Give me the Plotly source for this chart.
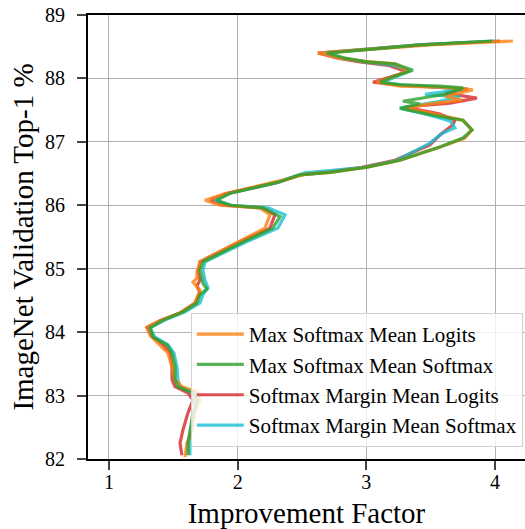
import plotly.graph_objects as go

# Max Softmax Mean Logits
msml_x = [4.139, 3.494, 2.624, 2.795, 2.989, 3.222, 3.323, 3.199, 3.082, 3.261, 3.611, 3.828, 3.611, 3.743,
          3.494, 3.300, 3.533, 3.751, 3.821, 3.766, 3.572, 3.261, 3.005, 2.717, 2.523, 2.368, 2.290, 1.901,
          1.746, 1.862, 2.173, 2.251, 2.212, 2.018, 1.847, 1.707, 1.684, 1.684, 1.653, 1.707, 1.668, 1.552,
          1.396, 1.295, 1.319, 1.396, 1.458, 1.490, 1.513, 1.567, 1.684, 1.707, 1.668, 1.645, 1.606, 1.591]
msml_y = [88.59, 88.53, 88.40, 88.32, 88.27, 88.23, 88.12, 88.02, 87.94, 87.88, 87.86, 87.82, 87.72, 87.66,
          87.60, 87.53, 87.44, 87.34, 87.19, 87.06, 86.92, 86.71, 86.60, 86.52, 86.49, 86.40, 86.37, 86.18,
          86.08, 86.00, 85.96, 85.85, 85.64, 85.44, 85.25, 85.11, 84.95, 84.85, 84.79, 84.66, 84.46, 84.30,
          84.18, 84.08, 83.95, 83.80, 83.67, 83.45, 83.25, 83.14, 83.06, 82.93, 82.73, 82.46, 82.25, 82.03]

# Max Softmax Mean Softmax
msms_x = [3.976, 3.416, 2.694, 2.834, 3.005, 3.222, 3.362, 3.222, 3.106, 3.261, 3.572, 3.751, 3.611, 3.284,
          3.416, 3.261, 3.517, 3.751, 3.821, 3.751, 3.572, 3.261, 3.005, 2.717, 2.484, 2.406, 2.329, 1.940,
          1.839, 1.940, 2.197, 2.329, 2.274, 2.072, 1.886, 1.730, 1.707, 1.730, 1.761, 1.707, 1.684, 1.575,
          1.420, 1.319, 1.342, 1.451, 1.490, 1.513, 1.513, 1.536, 1.653, 1.684, 1.653, 1.629, 1.614, 1.614]
msms_y = [88.59, 88.53, 88.40, 88.32, 88.26, 88.23, 88.13, 88.04, 87.94, 87.90, 87.88, 87.85, 87.75, 87.64,
          87.60, 87.53, 87.42, 87.34, 87.19, 87.06, 86.92, 86.71, 86.60, 86.52, 86.48, 86.43, 86.37, 86.19,
          86.08, 86.00, 85.96, 85.82, 85.64, 85.45, 85.26, 85.11, 84.98, 84.77, 84.68, 84.59, 84.46, 84.32,
          84.19, 84.07, 83.92, 83.80, 83.67, 83.45, 83.25, 83.14, 83.04, 82.93, 82.73, 82.46, 82.25, 82.06]

# Softmax Margin Mean Logits
smml_x = [4.038, 3.416, 2.624, 2.779, 2.950, 3.183, 3.315, 3.168, 3.051, 3.222, 3.611, 3.789, 3.611, 3.859,
          3.650, 3.300, 3.572, 3.688, 3.673, 3.572, 3.494, 3.222, 2.966, 2.678, 2.484, 2.368, 2.290, 1.901,
          1.785, 1.901, 2.189, 2.290, 2.251, 2.041, 1.847, 1.707, 1.692, 1.707, 1.684, 1.707, 1.668, 1.552,
          1.396, 1.295, 1.334, 1.420, 1.474, 1.490, 1.490, 1.513, 1.614, 1.653, 1.614, 1.575, 1.552, 1.567]
smml_y = [88.59, 88.53, 88.40, 88.32, 88.26, 88.20, 88.10, 88.01, 87.94, 87.90, 87.86, 87.83, 87.77, 87.69,
          87.61, 87.55, 87.44, 87.34, 87.27, 87.11, 86.95, 86.71, 86.60, 86.52, 86.48, 86.40, 86.35, 86.18,
          86.08, 86.00, 85.96, 85.85, 85.64, 85.45, 85.26, 85.11, 84.95, 84.82, 84.73, 84.62, 84.46, 84.30,
          84.18, 84.07, 83.94, 83.80, 83.67, 83.45, 83.25, 83.14, 83.04, 82.93, 82.73, 82.46, 82.25, 82.06]

# Softmax Margin Mean Softmax
smms_x = [3.999, 3.416, 2.655, 2.810, 2.989, 3.207, 3.339, 3.222, 3.129, 3.277, 3.572, 3.766, 3.455, 3.727,
          3.572, 3.261, 3.494, 3.650, 3.688, 3.595, 3.494, 3.238, 2.989, 2.717, 2.523, 2.406, 2.329, 1.940,
          1.824, 1.956, 2.235, 2.368, 2.313, 2.096, 1.901, 1.746, 1.730, 1.746, 1.769, 1.730, 1.707, 1.591,
          1.435, 1.319, 1.357, 1.458, 1.505, 1.528, 1.536, 1.552, 1.668, 1.684, 1.660, 1.637, 1.629, 1.629]
smms_y = [88.59, 88.53, 88.40, 88.32, 88.26, 88.21, 88.12, 88.02, 87.94, 87.90, 87.86, 87.83, 87.75, 87.71,
          87.64, 87.53, 87.42, 87.33, 87.22, 87.14, 86.98, 86.71, 86.60, 86.54, 86.51, 86.43, 86.37, 86.19,
          86.08, 86.00, 85.96, 85.85, 85.64, 85.45, 85.26, 85.11, 84.98, 84.82, 84.70, 84.59, 84.46, 84.32,
          84.19, 84.07, 83.92, 83.80, 83.67, 83.45, 83.25, 83.14, 83.04, 82.93, 82.73, 82.46, 82.25, 82.06]

x_ticks = [1, 2, 3, 4]
y_ticks = [82, 83, 84, 85, 86, 87, 88, 89]

FONT = "Liberation Serif"

# draw order: red, cyan, orange, green (green ends up on top like the original)
series = [
    ("Softmax Margin Mean Logits", smml_x, smml_y, "rgba(214,39,40,0.8)", 3),
    ("Softmax Margin Mean Softmax", smms_x, smms_y, "rgba(23,190,207,0.8)", 4),
    ("Max Softmax Mean Logits", msml_x, msml_y, "rgba(255,127,14,0.8)", 1),
    ("Max Softmax Mean Softmax", msms_x, msms_y, "rgba(44,160,44,0.8)", 2),
]

fig = go.Figure()
for name, xs, ys, col, rank in series:
    fig.add_trace(go.Scatter(
        x=xs, y=ys, mode="lines", name=name,
        line=dict(color=col, width=3.2),
        legendrank=rank,
    ))

fig.update_layout(
    width=525, height=529,
    margin=dict(l=88, r=0, t=15, b=70),
    plot_bgcolor="white", paper_bgcolor="white",
    font=dict(family=FONT, color="black", size=20),
    showlegend=True,
    legend=dict(
        x=0.995, xanchor="right", y=0.027, yanchor="bottom",
        bgcolor="rgba(255,255,255,0.8)", bordercolor="#d0d0d0", borderwidth=1,
        font=dict(family=FONT, size=21), itemwidth=47,
    ),
)
fig.update_xaxes(
    range=[0.837, 4.233], tickvals=x_ticks, ticks="outside", ticklen=9, tickwidth=1.5,
    showline=True, linecolor="black", linewidth=2, mirror=True, automargin=False,
    showgrid=True, gridcolor="#b0b0b0", gridwidth=1, zeroline=False, ticklabelstandoff=-5,
    tickfont=dict(size=20), title=dict(text="Improvement Factor", font=dict(size=29)),
)
fig.update_yaxes(
    range=[82, 89], tickvals=y_ticks, ticks="outside", ticklen=9, tickwidth=1.5,
    showline=True, linecolor="black", linewidth=2, automargin=False,
    showgrid=True, gridcolor="#b0b0b0", gridwidth=1, zeroline=False, ticklabelstandoff=8,
    tickfont=dict(size=20), title=dict(text="ImageNet Validation Top-1 %", font=dict(size=29), standoff=3),
)

fig.write_html("out.html", config={"displayModeBar": False},
               post_script="document.body.style.margin='0px';")
